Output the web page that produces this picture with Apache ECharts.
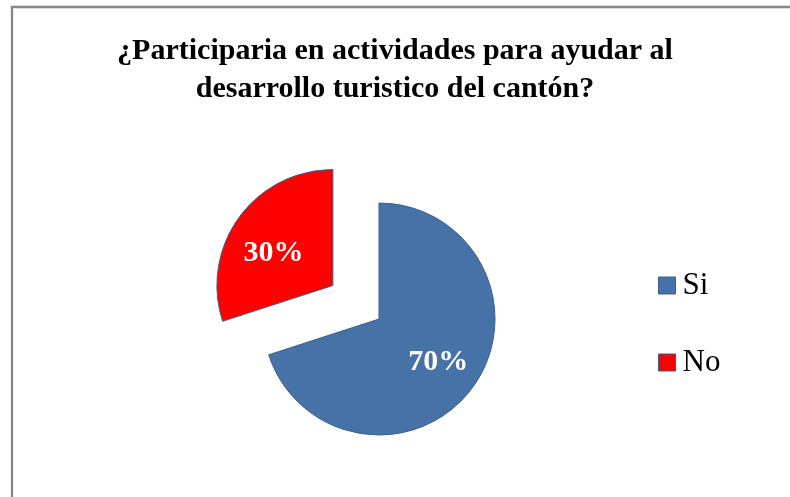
<!DOCTYPE html>
<html>
<head>
<meta charset="utf-8">
<script src="https://cdn.jsdelivr.net/npm/echarts@6/dist/echarts.min.js"></script>
<style>
  html, body { margin: 0; padding: 0; background: #fff; }
  #chart { width: 790px; height: 497px; }
</style>
</head>
<body>
<div id="chart"></div>
<script>
// Survey answers and their shares
const categories = ['Si', 'No'];
const values = [70, 30];
const sliceColors = ['#4672A7', '#FF0000'];
const titleText = '¿Participaria en actividades para ayudar al\ndesarrollo turistico del cantón?';

const serif = '"Liberation Serif", "Times New Roman", serif';

// small nudges of the in-slice percentage labels
const labelShift = [[10, 7], [-10, 4]];

const chart = echarts.init(document.getElementById('chart'), null, { renderer: 'canvas' });

const pieData = categories.map((name, i) => ({
  name: name,
  value: values[i],
  selected: name === 'No',
  itemStyle: { color: sliceColors[i] }
}));

chart.setOption({
  backgroundColor: '#ffffff',
  animation: false,
  graphic: [{
    type: 'rect',
    shape: { x: 12, y: 7, width: 900, height: 700 },
    style: { fill: 'none', stroke: '#878787', lineWidth: 2.3 },
    silent: true
  }],
  title: {
    text: titleText,
    left: 'center',
    top: 27,
    textStyle: {
      fontFamily: serif,
      fontWeight: 'bold',
      fontSize: 30,
      lineHeight: 38,
      color: '#000'
    }
  },
  legend: {
    orient: 'vertical',
    left: 658,
    top: 270,
    padding: 0,
    itemWidth: 17,
    itemHeight: 17,
    itemGap: 46,
    icon: 'rect',
    selectedMode: false,
    itemStyle: { borderColor: '#3B5F8E', borderWidth: 1 },
    textStyle: { fontFamily: serif, fontSize: 31, lineHeight: 31, color: '#000', padding: [0, 0, 0, 2] },
    data: categories
  },
  series: [{
    type: 'pie',
    center: [379, 319],
    radius: [0, 116],
    startAngle: 90,
    clockwise: true,
    selectedMode: 'single',
    selectedOffset: 57,
    avoidLabelOverlap: false,
    itemStyle: { borderColor: '#3B5F8E', borderWidth: 1 },
    emphasis: { disabled: true },
    label: {
      show: true,
      position: 'inside',
      formatter: '{d}%',
      color: '#fff',
      fontFamily: serif,
      fontWeight: 'bold',
      fontSize: 30
    },
    labelLayout: function (params) {
      const s = labelShift[params.dataIndex] || [0, 0];
      return { dx: s[0], dy: s[1] };
    },
    labelLine: { show: false },
    data: pieData
  }]
});
</script>
</body>
</html>
